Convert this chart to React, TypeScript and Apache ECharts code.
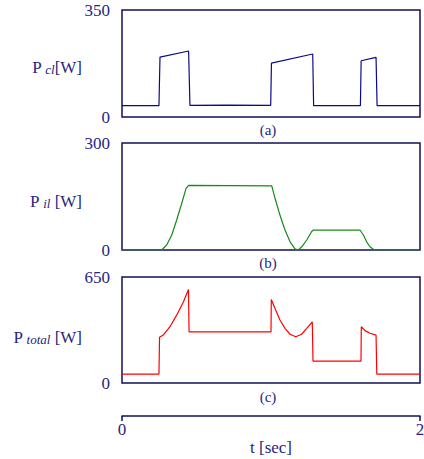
import React, { useEffect, useRef } from "react";
import * as echarts from "echarts";

// Panel (a): P_cl [W]
const clT = [0, 0.248, 0.255, 0.447, 0.456, 0.7, 0.998, 1.003, 1.28, 1.286, 1.6, 1.605, 1.705, 1.712, 2];
const clV = [37, 37, 196, 216, 38, 39, 38, 176, 206, 37, 37, 184, 195, 37, 37];

// Panel (b): P_il [W]
const ilT = [0, 0.266, 0.3, 0.334, 0.367, 0.401, 0.43, 0.447, 1.005, 1.027, 1.06, 1.094, 1.128, 1.161, 1.183, 1.206, 1.24, 1.273, 1.285, 1.597, 1.62, 1.642, 1.664, 1.687, 1.698, 2];
const ilV = [0, 0, 14, 42, 84, 131, 173, 181, 180, 145, 98, 56, 23, 3, 0, 9, 28, 52, 56, 56, 42, 23, 9, 2, 0, 0];

// Panel (c): P_total [W]
const totT = [0, 0.248, 0.252, 0.277, 0.322, 0.367, 0.412, 0.446, 0.45, 1.0, 1.002, 1.027, 1.06, 1.094, 1.128, 1.166, 1.206, 1.24, 1.277, 1.282, 1.604, 1.606, 1.631, 1.664, 1.705, 1.71, 2];
const totV = [55, 55, 280, 294, 345, 416, 497, 573, 314, 314, 512, 457, 386, 335, 299, 284, 299, 335, 375, 134, 134, 345, 321, 305, 294, 55, 55];

// Axis ranges / ticks
const yMax = [350, 300, 650];
const tMin = 0;
const tMax = 2;

const TEXT = "#262680";
const FRAME = "#10105a";
const FONT = "'Liberation Serif', 'DejaVu Serif', serif";

const pairs = (t: number[], v: number[]) => t.map((x, i) => [x, v[i]]);

export default function App() {
  const ref = useRef<HTMLDivElement>(null);
  useEffect(() => {
    if (!ref.current) return;
    const chart = echarts.init(ref.current, undefined, { renderer: "svg" });
    const grids = [
      { left: 122, right: 4, top: 10, height: 107 },
      { left: 122, right: 4, top: 143, height: 107 },
      { left: 122, right: 4, top: 277, height: 106 },
    ].map((g) => ({
      ...g,
      show: true,
      containLabel: false,
      outerBoundsMode: "none",
      borderColor: FRAME,
      borderWidth: 1.5,
      backgroundColor: "transparent",
    }));

    const yAxes = yMax.map((m, i) => ({
      type: "value",
      gridIndex: i,
      min: 0,
      max: m,
      interval: m,
      axisLine: { show: false },
      axisTick: { show: false },
      splitLine: { show: false },
      axisLabel: { color: TEXT, fontFamily: FONT, fontSize: 17, margin: 12 },
    }));

    const xAxes: any[] = [0, 1].map((i) => ({
      type: "value",
      gridIndex: i,
      min: tMin,
      max: tMax,
      show: false,
    }));
    xAxes.push({
      type: "value",
      gridIndex: 2,
      min: tMin,
      max: tMax,
      interval: 2,
      position: "bottom",
      offset: 33,
      axisLine: { show: true, onZero: false, lineStyle: { color: FRAME, width: 1.5 } },
      axisTick: { show: true, length: 5, lineStyle: { color: FRAME, width: 1.5 } },
      splitLine: { show: false },
      axisLabel: { color: TEXT, fontFamily: FONT, fontSize: 17, margin: 5 },
      name: "t [sec]",
      nameLocation: "middle",
      nameGap: 23,
      nameTextStyle: { color: TEXT, fontFamily: FONT, fontSize: 17 },
    });

    const mkLabel = (y: number, sub: string, after: string) => ({
      type: "text",
      x: 82,
      y,
      style: {
        text: `{p|P }{s|${sub}}{p|${after}}`,
        align: "right",
        verticalAlign: "middle",
        rich: {
          p: { fontFamily: FONT, fontSize: 17, fill: TEXT, color: TEXT },
          s: { fontFamily: FONT, fontSize: 13, fontStyle: "italic", fill: TEXT, color: TEXT, padding: [4, 0, 0, 0] },
        },
      },
    });
    const mkSub = (y: number, t: string) => ({
      type: "text",
      x: 268,
      y,
      style: { text: t, align: "center", verticalAlign: "middle", fontFamily: FONT, fontSize: 15, fill: TEXT },
    });

    chart.setOption({
      animation: false,
      backgroundColor: "#ffffff",
      grid: grids,
      xAxis: xAxes,
      yAxis: yAxes,
      series: [
        { type: "line", xAxisIndex: 0, yAxisIndex: 0, data: pairs(clT, clV), showSymbol: false, lineStyle: { color: "#0a0a8c", width: 1.2 } },
        { type: "line", xAxisIndex: 1, yAxisIndex: 1, data: pairs(ilT, ilV), showSymbol: false, lineStyle: { color: "#168a16", width: 1.2 } },
        { type: "line", xAxisIndex: 2, yAxisIndex: 2, data: pairs(totT, totV), showSymbol: false, lineStyle: { color: "#ff0000", width: 1.2 } },
      ],
      graphic: [
        mkLabel(67, "cl", "[W]"),
        mkLabel(201, "il", " [W]"),
        mkLabel(337, "total", " [W]"),
        mkSub(130, "(a)"),
        mkSub(263, "(b)"),
        mkSub(397, "(c)"),
      ],
    });
    return () => chart.dispose();
  }, []);
  return <div ref={ref} style={{ position: "fixed", left: 0, top: 0, width: 424, height: 459 }} />;
}
